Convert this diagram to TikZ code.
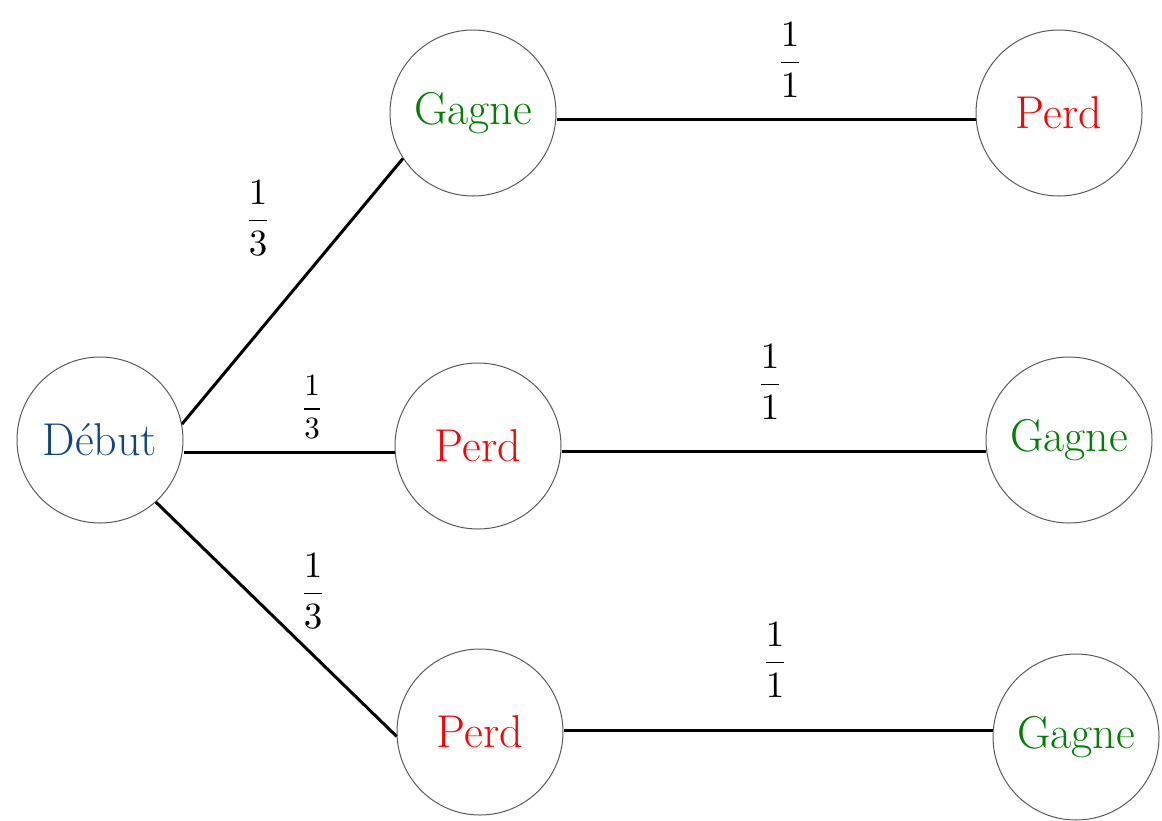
\documentclass[tikz,border=0pt]{standalone}
\usepackage{amsmath}
\usepackage{graphicx}
\usepackage{fontspec}
\definecolor{gagnegreen}{RGB}{0,128,0}
\definecolor{perdred}{RGB}{255,0,0}
\definecolor{debutblue}{RGB}{15,70,130}
\definecolor{circgray}{RGB}{90,90,90}
\newcommand{\bigfrac}[3][3.7]{\scalebox{#1}{$\dfrac{#2}{#3}$}}
\begin{document}
\begin{tikzpicture}[x=1pt,y=-1pt,
  state/.style={circle,draw=circgray,line width=1pt,minimum size=166pt,inner sep=0pt,font=\fontsize{46}{52}\selectfont},
  win/.style={state,text=gagnegreen},
  lose/.style={state,text=perdred},
  edge/.style={line width=3pt,black},
  prob/.style={inner sep=0pt}]
\useasboundingbox (0,0) rectangle (1162,820);
\node[state,text=debutblue] (d) at (100,440) {Début};
\node[win] (g1) at (473,113) {Gagne};
\node[lose] (p2) at (478,446) {Perd};
\node[lose] (p3) at (480,732) {Perd};
\node[lose] (p1) at (1059,113) {Perd};
\node[win] (g2) at (1069,440) {Gagne};
\node[win] (g3) at (1076,737) {Gagne};
\draw[edge] (d.11) -- (g1.213);
\draw[edge] (d.east |- 0,452) -- (p2.west |- 0,452);
\draw[edge] (d.-48) -- (p3.183);
\draw[edge] (g1.east |- 0,119) -- (p1.west |- 0,119);
\draw[edge] (p2.east |- 0,451) -- (g2.west |- 0,451);
\draw[edge] (p3.east |- 0,730) -- (g3.west |- 0,730);
\node[prob] (l1) at (258,218) {\bigfrac{1}{3}};
\node[prob] (l2) at (312,407) {\bigfrac[3.1]{1}{3}};
\node[prob] (l3) at (313,591) {\bigfrac{1}{3}};
\node[prob] (l4) at (790,60) {\bigfrac{1}{1}};
\node[prob] (l5) at (770,382) {\bigfrac{1}{1}};
\node[prob] (l6) at (775,660) {\bigfrac{1}{1}};
\end{tikzpicture}
\end{document}
